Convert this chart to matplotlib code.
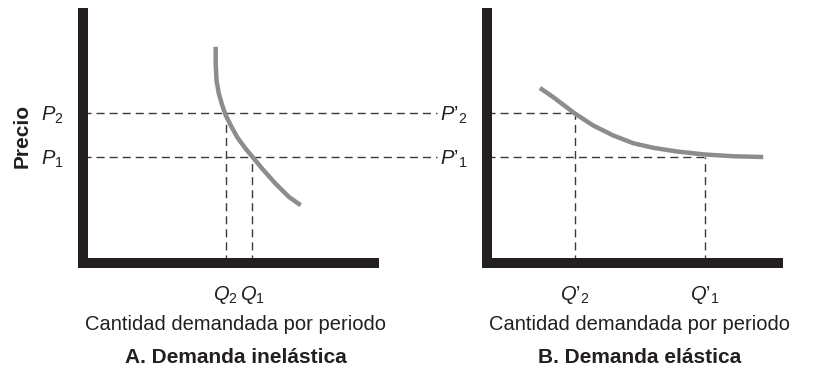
import numpy as np
import matplotlib
matplotlib.use("Agg")
import matplotlib.pyplot as plt

plt.rcParams['font.family'] = ['Liberation Sans', 'DejaVu Sans']
plt.rcParams['mathtext.fontset'] = 'custom'
plt.rcParams['mathtext.rm'] = 'Liberation Sans'
plt.rcParams['mathtext.it'] = 'Liberation Sans:italic'
plt.rcParams['mathtext.bf'] = 'Liberation Sans:bold'

# niveles de precio (comunes a los dos paneles)
P2 = 6.0
P1 = 4.25

# A. demanda inelastica
q_inel = [4.56, 4.56, 4.59, 4.67, 4.79, 4.90, 5.08, 5.30, 5.59, 5.82, 6.16, 6.62, 7.08, 7.48]
p_inel = [8.65, 7.96, 7.29, 6.76, 6.29, 5.92, 5.50, 5.03, 4.57, 4.25, 3.77, 3.17, 2.64, 2.31]
Q2, Q1 = 4.9, 5.82

# B. demanda elastica
q_elas = [1.82, 2.28, 3.02, 3.65, 4.34, 5.03, 5.71, 6.52, 7.49, 8.46, 9.49]
p_elas = [7.00, 6.63, 5.98, 5.50, 5.10, 4.79, 4.61, 4.46, 4.34, 4.27, 4.24]
Q2b, Q1b = 3.02, 7.49

curva = '#8c8c8c'
negro = '#231f20'
guion = '#3a3a3a'
dash = (0, (5.8, 3.6))

fig = plt.figure(figsize=(8.18, 3.71), dpi=100)
W, H = 818, 371
axA = fig.add_axes([83 / W, 1 - 263 / H, 291 / W, 250 / H])
axB = fig.add_axes([487 / W, 1 - 263 / H, 291 / W, 250 / H])

for ax in (axA, axB):
    ax.set_xlim(0, 10)
    ax.set_ylim(0, 10)
    ax.spines['top'].set_visible(False)
    ax.spines['right'].set_visible(False)
    for s in ('left', 'bottom'):
        ax.spines[s].set_linewidth(7.2)
        ax.spines[s].set_color(negro)
        ax.spines[s].set_capstyle('projecting')
    ax.tick_params(length=0, labelsize=14.5, colors=negro)
    ax.tick_params(axis='x', pad=15)
    ax.tick_params(axis='y', pad=14)
    ax.patch.set_alpha(0)

# panel A
axA.plot([0, 12.16], [P2, P2], ls=dash, lw=1.0, color=guion, clip_on=False)
axA.plot([0, 12.16], [P1, P1], ls=dash, lw=1.0, color=guion, clip_on=False)
axA.plot([Q2, Q2], [0, P2], ls=dash, lw=1.0, color=guion)
axA.plot([Q1, Q1], [0, P1], ls=dash, lw=1.0, color=guion)
axA.plot(q_inel, p_inel, color=curva, lw=3.2, solid_capstyle='butt', solid_joinstyle='round')
axA.set_xticks([Q2, Q1], [r'$Q_2$', r'$Q_1$'])
axA.set_yticks([P2, P1], [r'$P_2$', r'$P_1$'])

# panel B
axB.plot([0, Q2b], [P2, P2], ls=dash, lw=1.0, color=guion)
axB.plot([0, Q1b], [P1, P1], ls=dash, lw=1.0, color=guion)
axB.plot([Q2b, Q2b], [0, P2], ls=dash, lw=1.0, color=guion)
axB.plot([Q1b, Q1b], [0, P1], ls=dash, lw=1.0, color=guion)
axB.plot(q_elas, p_elas, color=curva, lw=3.2, solid_capstyle='butt', solid_joinstyle='round')
axB.set_xticks([Q2b, Q1b], [r"$Q’_2$", r"$Q’_1$"])
axB.set_yticks([P2, P1], [r"$P’_2$", r"$P’_1$"])

for ax, titulo in ((axA, 'A. Demanda inelástica'), (axB, 'B. Demanda elástica')):
    ax.annotate('Cantidad demandada por periodo', xy=(0.5, 0), xycoords='axes fraction',
                xytext=(5, -44), textcoords='offset points',
                ha='center', va='center', fontsize=14.5, color=negro)
    ax.annotate(titulo, xy=(0.5, 0), xycoords='axes fraction',
                xytext=(5, -68), textcoords='offset points',
                ha='center', va='center', fontsize=15, fontweight='bold', color=negro)

axA.annotate('Precio', xy=(0, 5.1), xycoords=('axes fraction', 'data'),
             xytext=(-44, 0), textcoords='offset points', rotation=90,
             ha='center', va='center', fontsize=15, fontweight='bold', color=negro)

fig.savefig('out.png', dpi=100)
